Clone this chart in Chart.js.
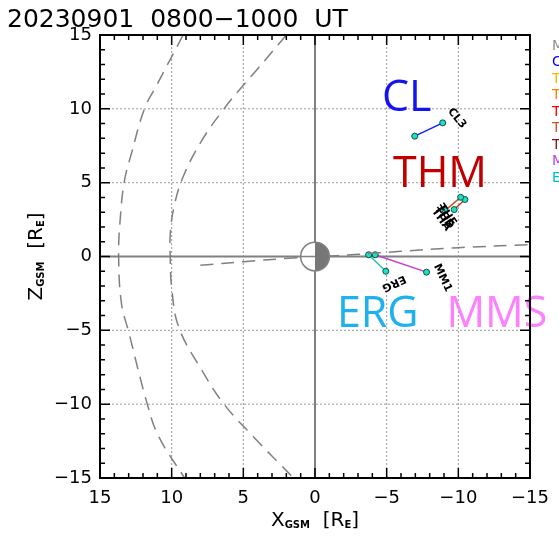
<!DOCTYPE html>
<html>
<head>
<meta charset="utf-8">
<script src="https://cdn.jsdelivr.net/npm/chart.js@4/dist/chart.umd.min.js"></script>
<style>
  body { margin: 0; background: #fff; }
  canvas { display: block; }
</style>
</head>
<body>
<canvas id="orbitChart" width="559" height="539"></canvas>
<script>
// model boundaries (X, Z in Re)
var bsX = [9.2, 11.1, 11.9, 12.8, 13.3, 13.6, 13.7, 13.5, 13.0, 11.7, 10.9, 9.1];
var bsZ = [15, 11.5, 10, 7, 5.1, 2.4, 0, -3.2, -5.1, -10, -12.2, -15];
var mpX = [2.0, 4.1, 5.0, 6.35, 7.9, 9.2, 9.85, 10.1, 10.1, 10.0, 9.5, 7.9, 6.35, 4.3, 1.5];
var mpZ = [15, 12.6, 11.6, 10, 7.85, 5.4, 3.3, 1.5, 0, -2.1, -4.8, -7.7, -10, -12.2, -15];
var nsX = [8, 5, 1.5, -1.5, -3, -6, -10, -15];
var nsZ = [-0.6, -0.35, -0.1, 0.05, 0.15, 0.35, 0.6, 0.8];

// spacecraft tracks 0800-1000 UT
var clX = [-6.96, -8.91];
var clZ = [8.15, 9.05];
var thdX = [-9.07, -10.16];
var thdZ = [3.11, 4.01];
var theX = [-9.71, -10.46];
var theZ = [3.18, 3.86];
var ergX = [-3.74, -4.94];
var ergZ = [0.12, -1.0];
var mmsX = [-4.2, -7.78];
var mmsZ = [0.12, -1.06];

var tickVals = [15, 10, 5, 0, -5, -10, -15];
var legendNames = ["MP/BS", "CL", "THA", "THB", "THC", "THD", "THE", "MMS", "ERG"];
var legendColors = ["#909090", "#0000ff", "#ffb400", "#ff8000", "#ff0000", "#c85a1e", "#8b1010", "#c040e0", "#00c0c0"];

function pts(xs, zs) {
  return xs.map(function(v, i) { return {x: v, y: zs[i]}; });
}
function fmt(v) {
  return v < 0 ? "\u2212" + Math.abs(v) : String(v);
}

var FONT = "'DejaVu Sans', sans-serif";
var BIG = "'Open Sans', 'Noto Sans', sans-serif";

function boundary(xs, zs) {
  return {
    data: pts(xs, zs), showLine: true, pointRadius: 0, borderColor: "#808080",
    borderWidth: 1.5, borderDash: [13, 8], tension: 0.4, fill: false
  };
}
function track(xs, zs, color) {
  return {
    data: pts(xs, zs), showLine: true, borderColor: color, borderWidth: 1.5,
    pointRadius: 3, pointBackgroundColor: "#20e0c0", pointBorderColor: "#0a5048", pointBorderWidth: 1
  };
}

var decor = {
  id: "decor",
  beforeDatasetsDraw: function(chart) {
    var ctx = chart.ctx, a = chart.chartArea, x = chart.scales.x, y = chart.scales.y;
    ctx.save();
    ctx.strokeStyle = "#999";
    ctx.lineWidth = 1;
    ctx.setLineDash([2, 2]);
    [-10, -5, 5, 10].forEach(function(v) {
      var px = x.getPixelForValue(v), py = y.getPixelForValue(v);
      ctx.beginPath(); ctx.moveTo(px, a.top); ctx.lineTo(px, a.bottom); ctx.stroke();
      ctx.beginPath(); ctx.moveTo(a.left, py); ctx.lineTo(a.right, py); ctx.stroke();
    });
    ctx.setLineDash([]);
    ctx.strokeStyle = "#808080";
    ctx.lineWidth = 2;
    var x0 = x.getPixelForValue(0), y0 = y.getPixelForValue(0);
    ctx.beginPath(); ctx.moveTo(x0, a.top); ctx.lineTo(x0, a.bottom); ctx.stroke();
    ctx.beginPath(); ctx.moveTo(a.left, y0); ctx.lineTo(a.right, y0); ctx.stroke();
    ctx.restore();
  },
  afterDatasetsDraw: function(chart) {
    var ctx = chart.ctx, x = chart.scales.x, y = chart.scales.y;
    ctx.save();
    // earth
    var x0 = x.getPixelForValue(0), y0 = y.getPixelForValue(0);
    var r = Math.abs(x.getPixelForValue(1) - x0);
    ctx.fillStyle = "#fff";
    ctx.beginPath(); ctx.arc(x0, y0, r, 0, Math.PI * 2); ctx.fill();
    ctx.fillStyle = "#777";
    ctx.beginPath(); ctx.moveTo(x0, y0 - r); ctx.arc(x0, y0, r, -Math.PI / 2, Math.PI / 2); ctx.closePath(); ctx.fill();
    ctx.strokeStyle = "#808080"; ctx.lineWidth = 1.5;
    ctx.beginPath(); ctx.arc(x0, y0, r, 0, Math.PI * 2); ctx.stroke();
    ctx.beginPath(); ctx.moveTo(x0 - r, y0); ctx.lineTo(x0, y0); ctx.stroke();

    // big mission labels (baseline at given Z)
    ctx.textAlign = "center"; ctx.textBaseline = "alphabetic";
    ctx.font = "43px " + BIG;
    [["CL", -6.4, 9.88, "#1414f0"], ["THM", -8.72, 4.7, "#c00000"],
     ["ERG", -4.38, -4.78, "#1eb0f0"], ["MMS", -12.69, -4.78, "#ff80ff"]].forEach(function(l) {
      ctx.fillStyle = l[3];
      ctx.fillText(l[0], x.getPixelForValue(l[1]), y.getPixelForValue(l[2]));
    });

    // probe labels
    ctx.textBaseline = "middle";
    ctx.fillStyle = "#000";
    ctx.font = "bold 11px " + FONT;
    [["CL3", -9.9, 9.35, 50], ["THA", -8.8, 2.5, 55], ["THD", -9.0, 2.65, 55],
     ["THE", -9.2, 2.8, 55], ["ERG", -5.5, -1.8, 155], ["MM1", -8.9, -1.45, 65]].forEach(function(l) {
      ctx.save();
      ctx.translate(x.getPixelForValue(l[1]), y.getPixelForValue(l[2]));
      ctx.rotate(l[3] * Math.PI / 180);
      ctx.fillText(l[0], 0, 0);
      ctx.restore();
    });
    ctx.restore();
  },
  afterDraw: function(chart) {
    var ctx = chart.ctx, a = chart.chartArea, x = chart.scales.x, y = chart.scales.y;
    ctx.save();
    // inward ticks
    ctx.strokeStyle = "#000";
    ctx.lineWidth = 1.5;
    for (var v = -15; v <= 15; v++) {
      var len = v % 5 === 0 ? 10 : 5;
      var px = x.getPixelForValue(v), py = y.getPixelForValue(v);
      ctx.beginPath();
      ctx.moveTo(px, a.bottom); ctx.lineTo(px, a.bottom - len);
      ctx.moveTo(px, a.top); ctx.lineTo(px, a.top + len);
      ctx.moveTo(a.left, py); ctx.lineTo(a.left + len, py);
      ctx.moveTo(a.right, py); ctx.lineTo(a.right - len, py);
      ctx.stroke();
    }
    ctx.lineWidth = 2;
    ctx.strokeRect(a.left, a.top, a.right - a.left, a.bottom - a.top);

    // title
    ctx.fillStyle = "#000";
    ctx.font = "25px " + FONT;
    ctx.textAlign = "left"; ctx.textBaseline = "alphabetic";
    ctx.fillText("20230901  0800\u22121000  UT", 7, 27);

    // axis titles with subscripts
    function axTitle(main, sub) {
      var big = "20px " + FONT, small = "bold 10px " + FONT;
      var parts = [[main[0], big, 0], [sub[0], small, 4], [main[1], big, 0], [sub[1], small, 4], [main[2], big, 0]];
      var w = 0;
      parts.forEach(function(p) { ctx.font = p[1]; w += ctx.measureText(p[0]).width; });
      var cx = -w / 2;
      parts.forEach(function(p) {
        ctx.font = p[1];
        ctx.fillText(p[0], cx, p[2]);
        cx += ctx.measureText(p[0]).width;
      });
    }
    ctx.textBaseline = "middle";
    ctx.save();
    ctx.translate((a.left + a.right) / 2, 521);
    axTitle(["X", "  [R", "]"], ["GSM", "E"]);
    ctx.restore();
    ctx.save();
    ctx.translate(37, (a.top + a.bottom) / 2);
    ctx.rotate(-Math.PI / 2);
    axTitle(["Z", "  [R", "]"], ["GSM", "E"]);
    ctx.restore();

    // legend (runs off the right edge)
    ctx.font = "14px " + FONT;
    ctx.textAlign = "left";
    legendNames.forEach(function(n, i) {
      ctx.fillStyle = legendColors[i];
      ctx.fillText(n, 552, 46 + i * 16.5);
    });
    ctx.restore();
  }
};

new Chart(document.getElementById("orbitChart"), {
  type: "scatter",
  data: {
    datasets: [
      boundary(bsX, bsZ),
      boundary(mpX, mpZ),
      boundary(nsX, nsZ),
      track(clX, clZ, "#1020ff"),
      track(thdX, thdZ, "#c8501e"),
      track(theX, theZ, "#b8401a"),
      track(ergX, ergZ, "#20c0c0"),
      track(mmsX, mmsZ, "#c040d0")
    ]
  },
  options: {
    responsive: false,
    animation: false,
    layout: { padding: { top: 35, right: 17, left: 0, bottom: 0 } },
    plugins: { legend: { display: false }, tooltip: { enabled: false } },
    scales: {
      x: {
        type: "linear", min: -15, max: 15, reverse: true,
        afterBuildTicks: function(s) { s.ticks = tickVals.map(function(v) { return {value: v}; }); },
        afterFit: function(s) { s.height = 61; },
        ticks: { color: "#000", font: { family: FONT, size: 18 }, padding: 10, maxRotation: 0, callback: fmt },
        grid: { display: false, drawTicks: false },
        border: { display: false }
      },
      y: {
        type: "linear", min: -15, max: 15,
        afterBuildTicks: function(s) { s.ticks = tickVals.map(function(v) { return {value: v}; }); },
        afterFit: function(s) { s.width = 100; },
        ticks: { color: "#000", font: { family: FONT, size: 18 }, padding: 8, callback: fmt },
        grid: { display: false, drawTicks: false },
        border: { display: false }
      }
    }
  },
  plugins: [decor]
});
</script>
</body>
</html>
